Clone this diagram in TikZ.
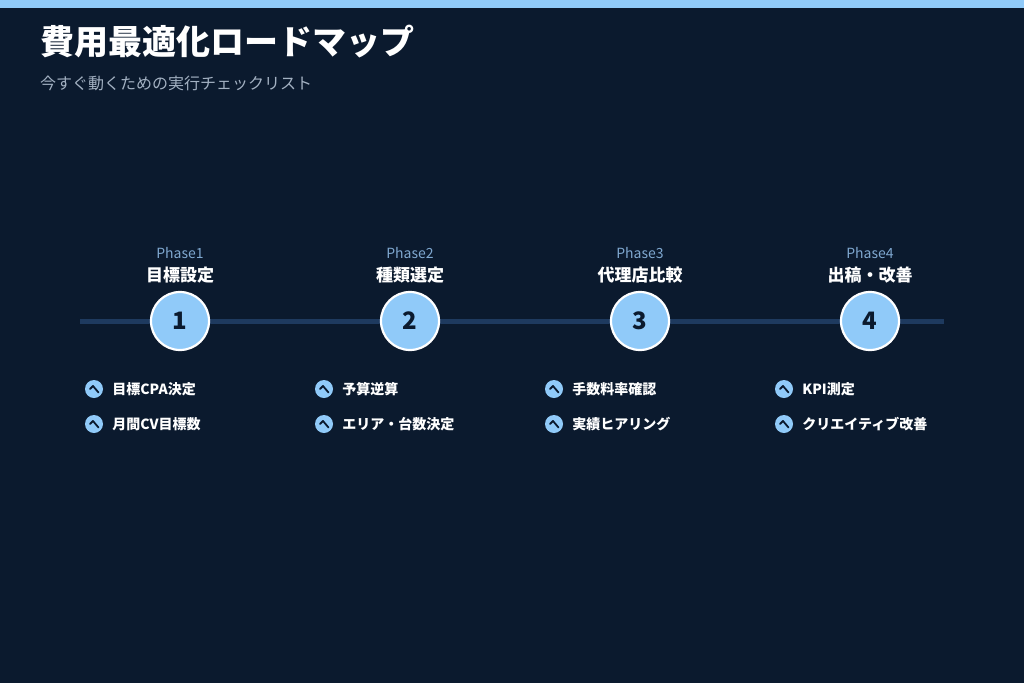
\documentclass[tikz,border=0pt]{standalone}
\usepackage{fontspec}
\setmainfont{Noto Sans CJK JP}
\definecolor{bgnavy}{HTML}{0B1A2E}
\definecolor{accent}{HTML}{90CAF9}
\definecolor{trackcol}{HTML}{1E3A5F}
\definecolor{subgray}{HTML}{A3B1C2}
\definecolor{phasecol}{HTML}{7FA8D0}
\definecolor{numcol}{HTML}{0B1A2E}
\tikzset{
  phasecircle/.style={draw=white, line width=2.2pt, fill=accent, circle, minimum size=58pt, inner sep=0pt},
  phaselabel/.style={text=phasecol, font=\fontsize{14}{14}\selectfont},
  phasetitle/.style={text=white, font=\fontsize{17}{17}\selectfont\bfseries},
  checkicon/.style={circle, fill=accent, minimum size=18pt, inner sep=0pt},
  checktext/.style={text=white, anchor=west, inner sep=0pt, font=\fontsize{14}{14}\selectfont\bfseries}
}
\newcommand{\checkitem}[3]{% name, position, text
  \node[checkicon] (#1) at #2 {};
  \draw[numcol, line width=1.8pt, line cap=round, line join=round]
    ([shift={(-4pt,0pt)}]#1.center) -- ([shift={(-1pt,3pt)}]#1.center) -- ([shift={(4.5pt,-3.5pt)}]#1.center);
  \node[checktext] (#1t) at ([xshift=9pt]#1.east) {#3};
}
\begin{document}
\begin{tikzpicture}[x=1pt, y=-1pt]
\fill[bgnavy] (0,0) rectangle (1024,683);
\useasboundingbox (0,0) rectangle (1024,683);
\fill[accent] (0,0) rectangle (1024,8);

% heading
\node[anchor=west, inner sep=0pt, text=white, font=\fontsize{34}{34}\selectfont\bfseries] (title) at (40,42) {費用最適化ロードマップ};
\node[anchor=west, inner sep=0pt, text=subgray, font=\fontsize{16}{16}\selectfont] (subtitle) at (40,83) {今すぐ動くための実行チェックリスト};

% track
\coordinate (trackleft) at (80,321);
\coordinate (trackright) at (944,321);
\draw[trackcol, line width=5pt] (trackleft) -- (trackright);

% phases
\foreach \n/\x/\name in {1/180/目標設定, 2/410/種類選定, 3/640/代理店比較, 4/870/出稿・改善} {
  \node[phasecircle] (p\n) at (\x,321) {\textcolor{numcol}{\fontsize{24}{24}\selectfont\bfseries \n}};
  \node[phaselabel] (l\n) at (\x,253) {Phase\n};
  \node[phasetitle] (t\n) at (\x,275) {\name};
}

% checklists
\checkitem{c1a}{(94,389)}{目標CPA決定}
\checkitem{c1b}{(94,424)}{月間CV目標数}
\checkitem{c2a}{(324,389)}{予算逆算}
\checkitem{c2b}{(324,424)}{エリア・台数決定}
\checkitem{c3a}{(554,389)}{手数料率確認}
\checkitem{c3b}{(554,424)}{実績ヒアリング}
\checkitem{c4a}{(784,389)}{KPI測定}
\checkitem{c4b}{(784,424)}{クリエイティブ改善}
\end{tikzpicture}
\end{document}
